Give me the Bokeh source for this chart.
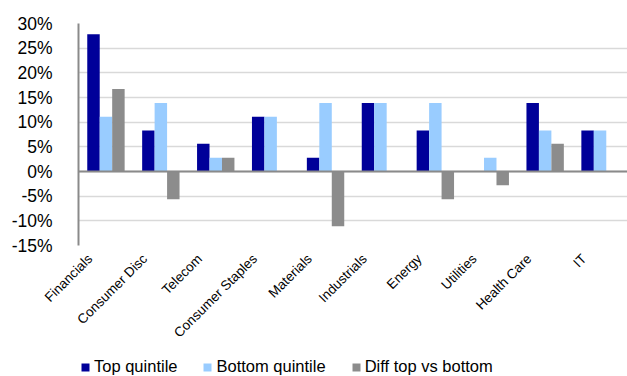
from bokeh.plotting import figure
from bokeh.models import (ColumnDataSource, Range1d, FixedTicker,
                          PrintfTickFormatter, Span, Legend, LegendItem)
from bokeh.layouts import column
from bokeh.transform import dodge
from bokeh.embed import file_html
from bokeh.resources import INLINE
import math

sectors = ["Financials", "Consumer Disc", "Telecom", "Consumer Staples", "Materials",
           "Industrials", "Energy", "Utilities", "Health Care", "IT"]
top_quintile = [27.8, 8.3, 5.6, 11.1, 2.8, 13.9, 8.3, 0.0, 13.9, 8.3]
bottom_quintile = [11.1, 13.9, 2.8, 11.1, 13.9, 13.9, 13.9, 2.8, 8.3, 8.3]
diff_top_bottom = [16.7, -5.6, 2.8, 0.0, -11.1, 0.0, -5.6, -2.8, 5.6, 0.0]
y_ticks = [-15, -10, -5, 0, 5, 10, 15, 20, 25, 30]
series_names = ["Top quintile", "Bottom quintile", "Diff top vs bottom"]

DARK = "#000099"
LIGHT = "#99CCFF"
GREY = "#8C8C8C"
COLORS = [DARK, LIGHT, GREY]

n = len(sectors)
src = ColumnDataSource(dict(idx=list(range(n)), sector=sectors, top=top_quintile,
                            bottom=bottom_quintile, diff=diff_top_bottom))

p = figure(width=627, height=348, output_backend="svg", toolbar_location=None,
           x_range=Range1d(-0.5, n - 0.5),
           y_range=Range1d(-15, 30),
           min_border_left=78, min_border_right=0,
           min_border_top=23, min_border_bottom=102)
p.outline_line_color = None

bw = 0.227
p.vbar(x=dodge("idx", -bw), top="top", width=bw, source=src,
       fill_color=DARK, line_color=None)
p.vbar(x=dodge("idx", 0), top="bottom", width=bw, source=src,
       fill_color=LIGHT, line_color=None)
p.vbar(x=dodge("idx", bw), top="diff", width=bw, source=src,
       fill_color=GREY, line_color=None)

p.add_layout(Span(location=0, dimension="width", line_color="#8A8A8A", line_width=2))

# y axis
p.yaxis.ticker = FixedTicker(ticks=y_ticks)
p.yaxis.formatter = PrintfTickFormatter(format="%d%%")
p.yaxis.axis_line_color = "#8A8A8A"
p.yaxis.axis_line_width = 2
p.yaxis.major_tick_line_color = None
p.yaxis.minor_tick_line_color = None
p.yaxis.major_label_standoff = 20
p.yaxis.major_label_text_font = "Liberation Sans"
p.yaxis.major_label_text_font_size = "17.5px"
p.yaxis.major_label_text_color = "#000000"

# category names on the x axis; its range is offset a little so each slanted
# name ends just before the bars of its group
shift = 0.29
p.extra_x_ranges = {"labels": Range1d(-0.5 + shift, n - 0.5 + shift)}
xa = p.xaxis[0]
xa.x_range_name = "labels"
xa.ticker = FixedTicker(ticks=list(range(n)))
xa.major_label_overrides = {i: s for i, s in enumerate(sectors)}
xa.axis_line_color = None
xa.major_tick_line_color = None
xa.minor_tick_line_color = None
xa.major_label_orientation = math.pi / 4
xa.major_label_standoff = 5
xa.major_label_text_font = "Liberation Sans"
xa.major_label_text_font_size = "13.5px"
xa.major_label_text_color = "#000000"

p.xgrid.grid_line_color = None
p.ygrid.grid_line_color = "#D9D9D9"
p.ygrid.grid_line_width = 1.5

# legend strip under the chart (its frame lines up with the chart's frame)
lg = figure(width=627, height=28, output_backend="svg", toolbar_location=None,
            x_range=Range1d(0, 1), y_range=Range1d(0, 1),
            x_axis_location=None, y_axis_location=None,
            min_border=0)
lg.outline_line_color = None
lg.xgrid.grid_line_color = None
lg.ygrid.grid_line_color = None
items = []
for name, col in zip(series_names, COLORS):
    # zero-height swatch bar far off-range so the legend has a glyph to draw
    r = lg.vbar(x=[-50], top=[0], bottom=[0], width=0.1,
                fill_color=col, line_color=None)
    items.append(LegendItem(label=name, renderers=[r]))
legend = Legend(items=items, orientation="horizontal", location=(2, 0),
                glyph_width=10, glyph_height=10, label_standoff=4, spacing=25,
                padding=0, margin=0, border_line_color=None,
                background_fill_alpha=0,
                label_text_font="Liberation Sans", label_text_font_size="16.5px",
                label_text_color="#000000")
lg.add_layout(legend, "center")

layout = column(p, lg, spacing=0)
open("out.html", "w").write(file_html(layout, INLINE))
